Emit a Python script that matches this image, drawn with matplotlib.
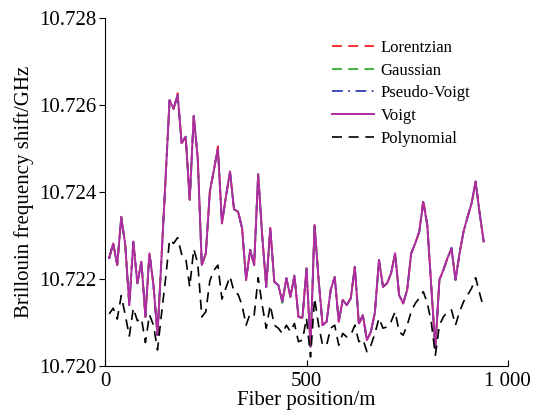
import matplotlib
matplotlib.use('Agg')
import matplotlib.pyplot as plt
import numpy as np

# fiber position (m)
posicion = list(range(10, 950, 10))

# Voigt fit, in MHz above 10.720 GHz
voigt = [2.48, 2.82, 2.32, 3.43, 2.78, 1.40, 2.86, 1.90, 2.40, 1.13,
         2.59, 1.86, 0.71, 2.5, 4.3, 6.11, 5.91, 6.23, 5.12, 5.27,
         3.82, 5.75, 4.77, 2.32, 2.59, 4.01, 4.5, 5.00, 3.28, 3.9,
         4.47, 3.60, 3.55, 3.17, 1.98, 2.67, 2.32, 4.41, 3.0, 1.82,
         3.17, 1.94, 1.86, 1.48, 2.02, 1.59, 2.08, 1.13, 1.11, 2.25,
         0.45, 3.24, 2.0, 0.94, 1.02, 1.75, 2.05, 1.02, 1.52, 1.40,
         1.56, 2.28, 0.98, 1.17, 0.60, 0.79, 1.25, 2.44, 1.82, 1.90,
         2.13, 2.59, 1.63, 1.44, 1.75, 2.59, 2.82, 3.09, 3.76, 3.24,
         1.8, 0.41, 1.98, 2.21, 2.48, 2.70, 1.98, 2.59, 3.09, 3.43,
         3.74, 4.24, 3.51, 2.86]

# the other peak fits sit on top of Voigt, differing only at a few points
lorentz_dif = {17: 6.27, 27: 5.05, 52: 1.95, 62: 0.95, 78: 3.84}
gauss_dif = {43: 1.45, 51: 3.27, 66: 1.22}
pseudo_dif = {19: 5.29, 9: 1.16, 85: 2.72}

# polynomial fit, MHz above 10.720 GHz
polinomio = [1.20, 1.33, 1.08, 1.62, 1.17, 0.69, 1.33, 1.04, 1.10, 0.54,
             1.18, 0.94, 0.37, 1.2, 2.0, 2.90, 2.82, 2.95, 2.57, 2.49,
             1.82, 2.69, 2.36, 1.13, 1.25, 1.96, 2.2, 2.32, 1.54, 1.8,
             2.06, 1.71, 1.65, 1.40, 0.94, 1.21, 1.17, 2.03, 1.40, 0.87,
             1.40, 0.94, 0.87, 0.75, 0.94, 0.79, 0.98, 0.56, 0.60, 1.10,
             0.21, 1.56, 0.94, 0.48, 0.48, 0.87, 0.94, 0.48, 0.75, 0.67,
             0.71, 0.94, 0.56, 0.62, 0.33, 0.48, 0.75, 1.10, 0.87, 0.90,
             1.02, 1.25, 0.79, 0.71, 0.94, 1.25, 1.44, 1.56, 1.71, 1.45,
             1.0, 0.25, 0.94, 1.13, 1.25, 1.29, 0.94, 1.25, 1.48, 1.63,
             1.79, 2.03, 1.67, 1.33]

y_ticks = [10.720, 10.722, 10.724, 10.726, 10.728]
x_ticks = [0, 500, 1000]
x_etiquetas = ['0', '500', '1 000']


def a_ghz(lista, cambios=None):
    valores = list(lista)
    if cambios:
        for i, v in cambios.items():
            valores[i] = v
    return 10.720 + np.array(valores) / 1000


plt.rcParams['font.family'] = ['Liberation Serif', 'DejaVu Serif']

fig = plt.figure(figsize=(5.42, 4.16), dpi=100)
ax = fig.add_axes([0.194, 0.120, 0.743, 0.837])

x = np.array(posicion)
ax.plot(x, a_ghz(voigt, lorentz_dif), color='#ff2020', lw=1.3, ls=(0, (5.5, 3.5)), label='Lorentzian')
ax.plot(x, a_ghz(voigt, gauss_dif), color='#30b030', lw=1.3, ls=(0, (5.5, 3.5)), label='Gaussian')
ax.plot(x, a_ghz(voigt, pseudo_dif), color='#3040b0', lw=1.3, ls=(0, (6, 3, 1, 3)), label='Pseudo-Voigt')
ax.plot(x, a_ghz(voigt), color='#b02ca0', lw=1.4, label='Voigt')
ax.plot(x, a_ghz(polinomio), color='black', lw=1.2, ls=(0, (6, 4)), label='Polynomial')

ax.set_xlim(0, 1000)
ax.set_ylim(10.720, 10.728)
ax.set_xticks(x_ticks)
ax.set_xticklabels(x_etiquetas)
ax.set_yticks(y_ticks)
ax.set_yticklabels([f'{v:.3f}' for v in y_ticks])
ax.tick_params(axis='x', direction='in', length=4, labelsize=15, pad=4)
ax.tick_params(axis='y', direction='out', length=4, labelsize=15, pad=2)
ax.spines['top'].set_visible(False)
ax.spines['right'].set_visible(False)
ax.set_xlabel('Fiber position/m', fontsize=15, labelpad=0)
ax.set_ylabel('Brillouin frequency shift/GHz', fontsize=15, labelpad=4)

ax.legend(loc='upper left', bbox_to_anchor=(0.585, 0.94), bbox_transform=fig.transFigure,
          frameon=False, fontsize=12, handlelength=2.5, handletextpad=0.4, labelspacing=0.4)

fig.savefig('out.png', dpi=100)
